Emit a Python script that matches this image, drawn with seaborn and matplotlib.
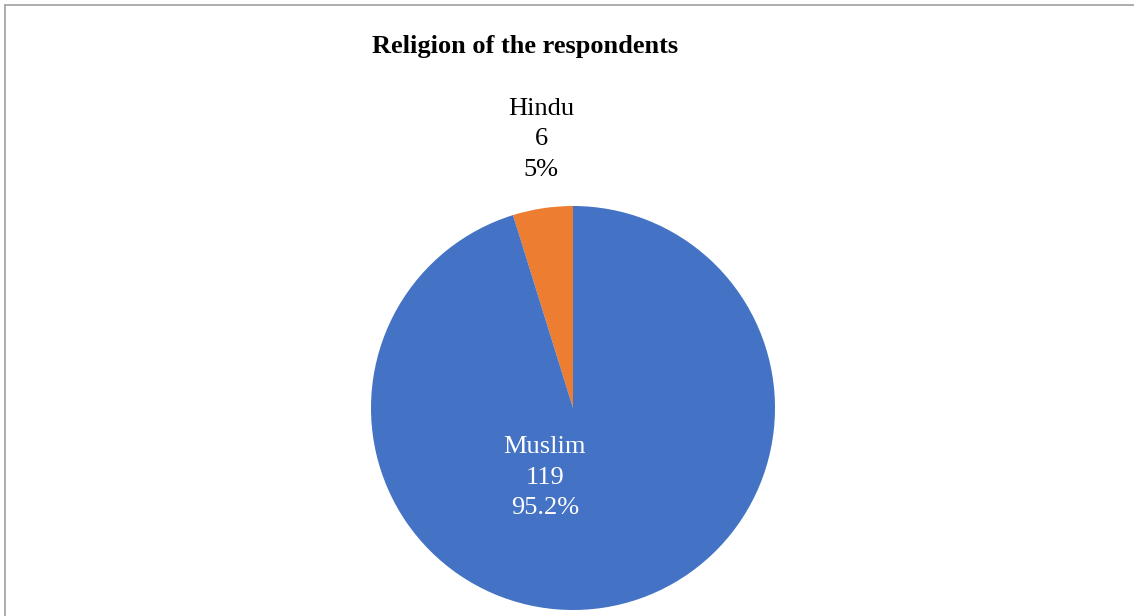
import matplotlib
matplotlib.use("Agg")
import matplotlib.pyplot as plt
from matplotlib.lines import Line2D
import seaborn as sns

# data
religions = ["Hindu", "Muslim"]
counts = [6, 119]
pct_labels = ["5%", "95.2%"]
slice_colors = ["#ED7D31", "#4472C4"]

sns.set_theme(style="white")
plt.rcParams['font.family'] = ['Liberation Serif', 'DejaVu Serif']

W, H = 1134, 616
fig = plt.figure(figsize=(W / 100, H / 100), dpi=100)
fig.patch.set_facecolor("white")

# pie centred at (573, 408) px with radius 202 px
cx, cy, r = 573, 408, 202
ax = fig.add_axes([(cx - r) / W, (H - cy - r) / H, 2 * r / W, 2 * r / H])
ax.pie(counts, colors=slice_colors, startangle=90, counterclock=True,
       radius=1, wedgeprops=dict(linewidth=0))
ax.set_xlim(-1, 1)
ax.set_ylim(-1, 1)
ax.axis("off")

# data labels
label_pos = {"Hindu": (-0.158, 1.33, "black"), "Muslim": (-0.139, -0.345, "white")}
for name, n, p in zip(religions, counts, pct_labels):
    x, y, c = label_pos[name]
    ax.text(x, y, f"{name}\n{n}\n{p}", ha="center", va="center", color=c,
            fontsize=19, linespacing=1.5, clip_on=False)

fig.text(525 / W, 1 - 47 / H, "Religion of the respondents", ha="center", va="center",
         fontsize=19, fontweight="bold", color="black")

# chart border (top and left visible)
bx, by = 4.5 / W, 1 - 4.5 / H
fig.add_artist(Line2D([bx, 1.01], [by, by], transform=fig.transFigure, color="#A6A6A6", lw=1.3))
fig.add_artist(Line2D([bx, bx], [by, -0.01], transform=fig.transFigure, color="#A6A6A6", lw=1.3))

fig.savefig("out.png", dpi=100, facecolor="white")
